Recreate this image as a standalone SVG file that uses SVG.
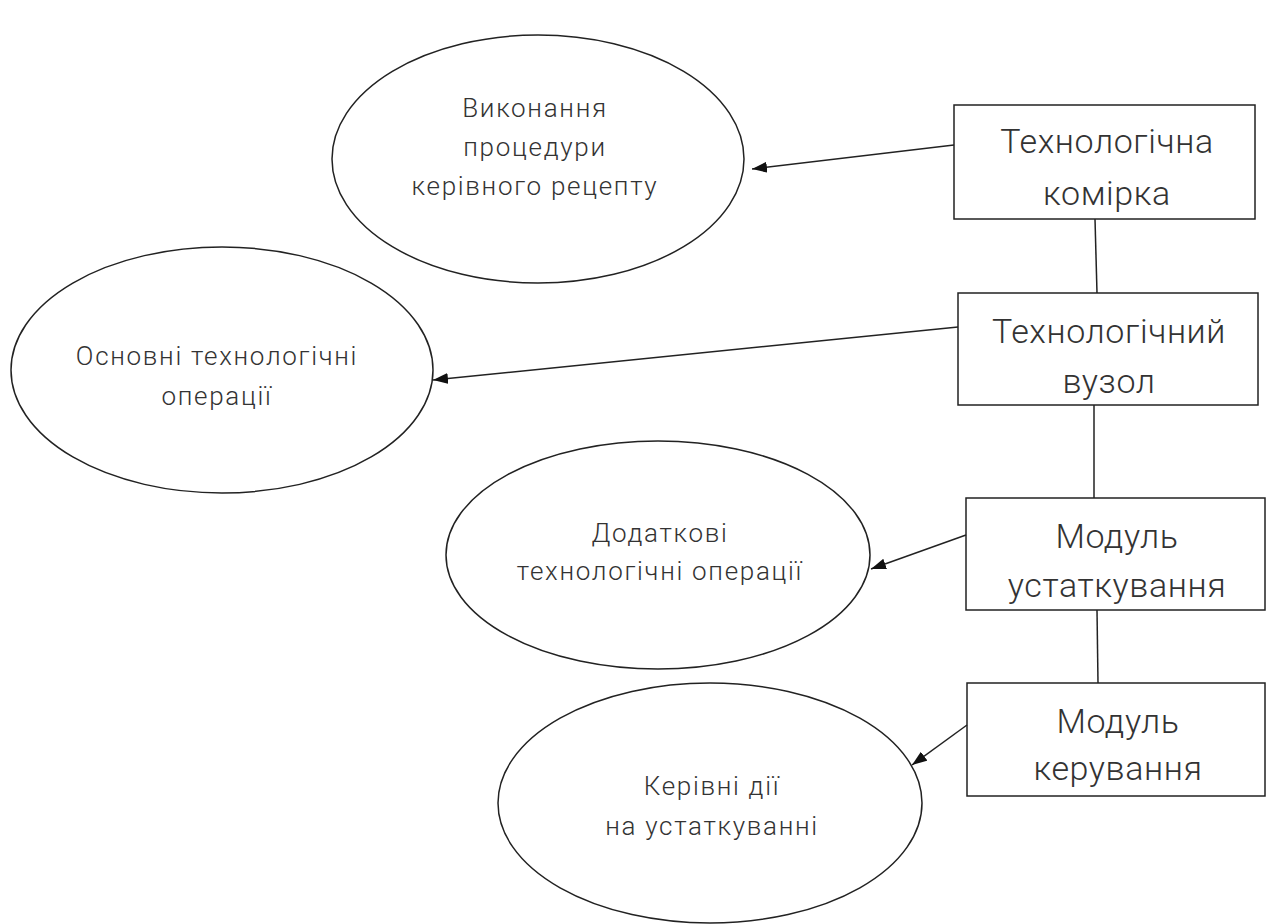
<svg xmlns="http://www.w3.org/2000/svg" width="1266" height="924" viewBox="0 0 1266 924">
<defs>
<style>
.shape{fill:#fff;stroke:#222;stroke-width:1.5}
.conn{fill:none;stroke:#222;stroke-width:1.5}
.bt{font-family:Roboto,"Liberation Sans",sans-serif;font-weight:300;font-size:34px;letter-spacing:0.6px;fill:#333;text-anchor:middle}
.et{font-family:Roboto,"Liberation Sans",sans-serif;font-weight:300;font-size:26px;letter-spacing:1.7px;fill:#333;text-anchor:middle}
</style>
<marker id="ah" viewBox="0 0 15 11" refX="15" refY="5.5" markerWidth="15" markerHeight="11" markerUnits="userSpaceOnUse" orient="auto">
<path d="M0,0 L15,5.5 L0,11 z" fill="#111"/>
</marker>
</defs>
<rect width="1266" height="924" fill="#fff"/>
<g id="e1">
<ellipse class="shape" cx="538" cy="159" rx="206" ry="124"/>
<text class="et" x="535" y="117">Виконання</text>
<text class="et" x="535" y="156">процедури</text>
<text class="et" x="535" y="195">керівного рецепту</text>
</g>
<g id="e2">
<ellipse class="shape" cx="222" cy="370" rx="211" ry="123"/>
<text class="et" x="217" y="365">Основні технологічні</text>
<text class="et" x="217" y="405">операції</text>
</g>
<g id="e3">
<ellipse class="shape" cx="658" cy="555" rx="212" ry="114"/>
<text class="et" x="660" y="542">Додаткові</text>
<text class="et" x="660" y="580">технологічні операції</text>
</g>
<g id="e4">
<ellipse class="shape" cx="710" cy="803" rx="212" ry="120"/>
<text class="et" x="712" y="795">Керівні дії</text>
<text class="et" x="712" y="835">на устаткуванні</text>
</g>
<g id="b1">
<rect class="shape" x="954" y="105" width="301" height="114"/>
<text class="bt" x="1107" y="153">Технологічна</text>
<text class="bt" x="1107" y="205">комірка</text>
</g>
<g id="b2">
<rect class="shape" x="958" y="293" width="300" height="112"/>
<text class="bt" x="1109" y="343">Технологічний</text>
<text class="bt" x="1109" y="393">вузол</text>
</g>
<g id="b3">
<rect class="shape" x="966" y="498" width="299" height="112"/>
<text class="bt" x="1117" y="548">Модуль</text>
<text class="bt" x="1117" y="597">устаткування</text>
</g>
<g id="b4">
<rect class="shape" x="967" y="683" width="298" height="113"/>
<text class="bt" x="1118" y="733">Модуль</text>
<text class="bt" x="1118" y="780">керування</text>
</g>
<g id="connectors">
<line class="conn" x1="1095" y1="219" x2="1097" y2="293"/>
<line class="conn" x1="1094" y1="405" x2="1094" y2="498"/>
<line class="conn" x1="1097" y1="610" x2="1098" y2="683"/>
<line class="conn" x1="954" y1="145" x2="752" y2="169" marker-end="url(#ah)"/>
<line class="conn" x1="958" y1="327" x2="433" y2="380" marker-end="url(#ah)"/>
<line class="conn" x1="966" y1="535" x2="871" y2="569" marker-end="url(#ah)"/>
<line class="conn" x1="967" y1="725" x2="912" y2="765" marker-end="url(#ah)"/>
</g>
</svg>
